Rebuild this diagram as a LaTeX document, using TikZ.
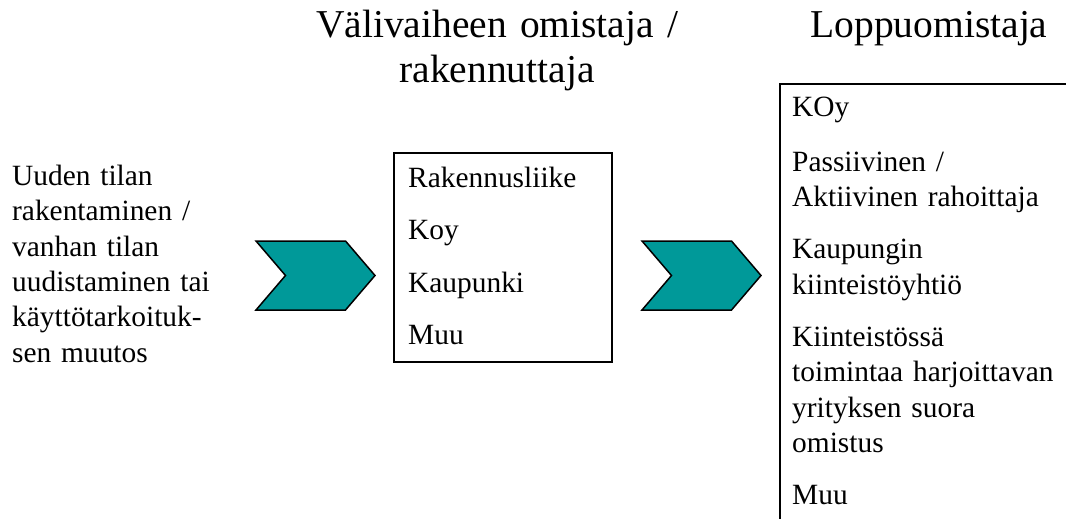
\documentclass[tikz,border=0pt]{standalone}
\usepackage{fontspec}
\setmainfont{Liberation Serif}
\usetikzlibrary{positioning}
\definecolor{stagefill}{RGB}{0,153,153}
\newcommand{\bodyfont}{\fontsize{29.4}{35.5}\selectfont}
\newcommand{\headfont}{\fontsize{39.5}{44}\selectfont}
\tikzset{
  pics/stagearrow/.style={code={
    \draw[chevron] (0,0) -- (89.5,0) -- (119,34.5) -- (89.5,69) -- (0,69) -- (29.5,34.5) -- cycle;
  }}
}

\begin{document}
\begin{tikzpicture}[x=1pt,y=-1pt,
    chevron/.style={fill=stagefill, draw=black, line width=1.5pt, line join=miter},
    listbox/.style={draw=black, line width=1.5pt, anchor=north west, inner sep=0pt, outer sep=0pt},
    listtext/.style={font=\bodyfont, align=left, anchor=base west, inner sep=0pt},
    headtext/.style={font=\headfont, align=center, anchor=base, inner sep=0pt}]
				\useasboundingbox (0,0) rectangle (1066,519);
				
				\node[headtext, text width=420pt] (midhead) at (497,38) {Välivaiheen omistaja /\\rakennuttaja};
				\node[headtext, text width=300pt] (endhead) at (929,38) {Loppuomistaja};
				
				\node[listtext, text width=230pt] (task) at (12,185) {Uuden tilan\\rakentaminen /\\vanhan tilan\\uudistaminen tai\\käyttötarkoituk-\\sen muutos};
				
				\pic at (256,241) {stagearrow};
				
				\node[listbox, minimum width=218pt, minimum height=209pt] (midbox) at (394,153) {};
				\node[listtext, text width=200pt] (midlist) at ([xshift=14pt,yshift=-34pt]midbox.north west) {Rakennusliike\\[17pt]Koy\\[17pt]Kaupunki\\[17pt]Muu};
				
				\pic at (642,241) {stagearrow};
				
				\node[listbox, minimum width=320pt, minimum height=480pt] (endbox) at (780,84) {};
				\node[listtext, text width=270pt] (endlist) at ([xshift=12pt,yshift=-33pt]endbox.north west) {KOy\\[19pt]Passiivinen /\\Aktiivinen rahoittaja\\[16.5pt]Kaupungin\\kiinteistöyhtiö\\[16.5pt]Kiinteistössä\\toimintaa harjoittavan\\yrityksen suora\\omistus\\[16.5pt]Muu};
			\end{tikzpicture}
\end{document}
